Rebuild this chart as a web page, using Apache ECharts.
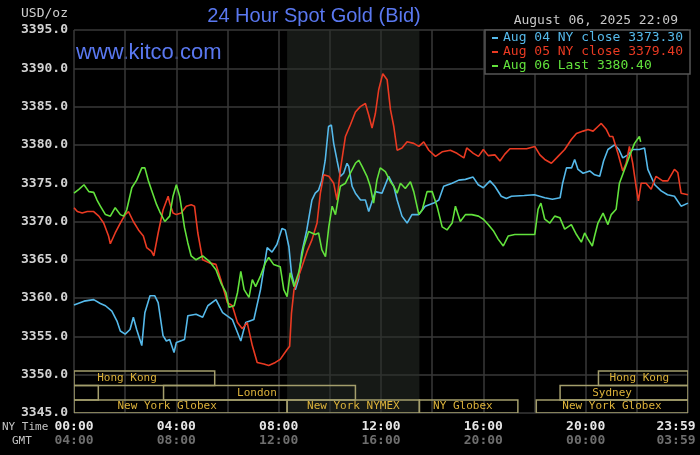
<!DOCTYPE html>
<html>
<head>
<meta charset="utf-8">
<title>24 Hour Spot Gold</title>
<style>
  html, body { margin: 0; padding: 0; background: #000; }
  #charts { width: 700px; height: 455px; }
</style>
</head>
<body>
<div id="charts"></div>
<script src="https://cdn.jsdelivr.net/npm/echarts/dist/echarts.min.js"></script>
<script>
// hours since 00:00 NY time, and price
var aug04Time = [0, 0.39, 0.77, 1.03, 1.23, 1.48, 1.68, 1.81, 2.0, 2.19, 2.32, 2.45, 2.65, 2.77, 2.97, 3.16, 3.29, 3.48, 3.61, 3.74, 3.91, 4.0, 4.32, 4.45, 4.77, 5.03, 5.23, 5.55, 5.81, 6.19, 6.52, 6.71, 7.03, 7.29, 7.55, 7.74, 7.93, 8.13, 8.26, 8.4, 8.5, 8.65, 8.78, 8.9, 9.1, 9.3, 9.43, 9.56, 9.69, 9.82, 9.95, 10.06, 10.15, 10.28, 10.41, 10.54, 10.67, 10.74, 10.87, 11.0, 11.2, 11.39, 11.52, 11.78, 12.04, 12.3, 12.5, 12.63, 12.82, 13.02, 13.21, 13.47, 13.73, 14.06, 14.26, 14.45, 14.78, 15.04, 15.3, 15.6, 15.8, 16.0, 16.26, 16.45, 16.7, 16.9, 17.1, 17.6, 18.0, 18.2, 18.4, 18.7, 19.0, 19.1, 19.25, 19.45, 19.57, 19.7, 19.9, 20.16, 20.35, 20.55, 20.7, 20.87, 21.13, 21.3, 21.45, 21.65, 21.84, 22.1, 22.3, 22.43, 22.7, 22.95, 23.2, 23.47, 23.73, 24.0];
var aug04Price = [3359.1, 3359.6, 3359.8, 3359.3, 3359.0, 3358.3, 3357.0, 3355.7, 3355.3, 3355.9, 3357.5, 3355.9, 3353.8, 3358.1, 3360.3, 3360.3, 3359.4, 3355.1, 3354.4, 3354.6, 3352.9, 3354.2, 3354.6, 3357.7, 3357.9, 3357.5, 3359.0, 3359.8, 3358.1, 3357.2, 3354.4, 3356.8, 3357.2, 3361.1, 3366.6, 3366.0, 3367.0, 3369.1, 3368.9, 3366.7, 3363.3, 3361.1, 3362.5, 3365.9, 3368.9, 3372.8, 3373.7, 3374.1, 3375.4, 3378.0, 3382.4, 3382.6, 3380.2, 3378.0, 3375.9, 3376.3, 3377.6, 3377.2, 3374.6, 3373.7, 3372.8, 3372.8, 3371.3, 3373.9, 3373.7, 3375.9, 3374.6, 3372.8, 3370.7, 3369.8, 3370.9, 3370.9, 3372.0, 3372.4, 3372.8, 3374.6, 3375.0, 3375.4, 3375.5, 3375.8, 3374.8, 3374.4, 3375.3, 3374.6, 3373.3, 3373.0, 3373.3, 3373.4, 3373.5, 3373.3, 3373.1, 3372.9, 3373.1, 3375.0, 3377.0, 3377.0, 3378.1, 3376.8, 3376.3, 3376.6, 3376.1, 3375.9, 3377.9, 3379.4, 3380.0, 3379.4, 3378.3, 3378.7, 3379.4, 3379.4, 3379.6, 3376.8, 3374.8, 3374.0, 3373.5, 3373.3, 3372.0, 3372.4];

var aug05Time = [0, 0.13, 0.32, 0.52, 0.77, 0.97, 1.16, 1.35, 1.42, 1.61, 1.81, 2.0, 2.13, 2.32, 2.52, 2.71, 2.84, 3.03, 3.12, 3.29, 3.48, 3.68, 3.74, 3.87, 4.0, 4.19, 4.39, 4.58, 4.71, 4.84, 5.03, 5.29, 5.55, 5.74, 6.0, 6.19, 6.39, 6.58, 6.77, 6.97, 7.16, 7.42, 7.61, 7.87, 8.06, 8.33, 8.43, 8.5, 8.6, 8.73, 8.91, 9.11, 9.3, 9.5, 9.63, 9.76, 9.96, 10.15, 10.28, 10.41, 10.61, 10.8, 11.0, 11.19, 11.39, 11.52, 11.65, 11.78, 11.91, 12.07, 12.24, 12.37, 12.5, 12.63, 12.82, 13.02, 13.28, 13.48, 13.67, 13.87, 14.13, 14.39, 14.71, 14.97, 15.24, 15.35, 15.61, 15.81, 16.0, 16.19, 16.45, 16.65, 16.84, 17.04, 17.36, 17.69, 18.01, 18.21, 18.4, 18.66, 18.92, 19.18, 19.44, 19.64, 19.9, 20.09, 20.29, 20.48, 20.61, 20.81, 20.94, 21.06, 21.26, 21.45, 21.58, 21.71, 21.84, 21.97, 22.06, 22.17, 22.36, 22.56, 22.75, 23.01, 23.21, 23.47, 23.6, 23.73, 24.0];
var aug05Price = [3371.8, 3371.3, 3371.1, 3371.3, 3371.3, 3370.7, 3369.8, 3368.1, 3367.1, 3368.5, 3369.8, 3370.9, 3371.3, 3370.0, 3368.9, 3368.1, 3366.6, 3366.1, 3365.5, 3368.5, 3371.5, 3373.3, 3372.4, 3371.1, 3370.9, 3371.1, 3372.0, 3372.2, 3372.0, 3368.5, 3365.0, 3364.6, 3364.4, 3362.4, 3359.4, 3359.0, 3356.8, 3356.0, 3356.8, 3353.8, 3351.6, 3351.4, 3351.2, 3351.6, 3352.0, 3353.3, 3353.7, 3358.0, 3361.1, 3362.4, 3364.1, 3366.1, 3367.6, 3369.8, 3373.7, 3376.1, 3375.9, 3375.0, 3372.8, 3376.7, 3381.1, 3382.6, 3384.3, 3385.0, 3385.4, 3383.9, 3382.2, 3384.1, 3387.2, 3389.3, 3388.5, 3384.6, 3382.4, 3379.3, 3379.6, 3380.4, 3380.2, 3379.8, 3380.4, 3379.3, 3378.5, 3379.1, 3379.3, 3378.9, 3378.3, 3379.6, 3378.9, 3378.5, 3379.4, 3378.6, 3378.7, 3377.9, 3378.8, 3379.5, 3379.5, 3379.5, 3379.8, 3378.7, 3378.1, 3377.6, 3378.5, 3379.4, 3380.7, 3381.5, 3381.8, 3382.0, 3381.8, 3382.4, 3382.8, 3382.0, 3381.1, 3381.1, 3378.9, 3376.6, 3377.6, 3379.8, 3377.6, 3374.6, 3372.7, 3375.0, 3375.0, 3374.2, 3375.9, 3375.3, 3375.3, 3376.8, 3376.4, 3373.7, 3373.5];

var aug06Time = [0, 0.19, 0.39, 0.58, 0.77, 0.9, 1.03, 1.23, 1.42, 1.61, 1.81, 1.94, 2.06, 2.26, 2.45, 2.65, 2.77, 2.9, 3.03, 3.23, 3.35, 3.55, 3.74, 3.87, 4.0, 4.13, 4.32, 4.45, 4.58, 4.77, 5.03, 5.29, 5.55, 5.74, 5.94, 6.06, 6.26, 6.39, 6.52, 6.65, 6.84, 6.97, 7.1, 7.29, 7.48, 7.61, 7.8, 8.06, 8.2, 8.33, 8.45, 8.6, 8.78, 8.98, 9.17, 9.43, 9.56, 9.69, 9.83, 9.96, 10.09, 10.22, 10.41, 10.61, 10.8, 11.0, 11.13, 11.26, 11.45, 11.58, 11.71, 11.84, 11.97, 12.17, 12.37, 12.5, 12.63, 12.76, 12.95, 13.15, 13.28, 13.48, 13.61, 13.8, 14.0, 14.19, 14.39, 14.58, 14.78, 14.91, 15.1, 15.3, 15.55, 15.81, 16.0, 16.19, 16.39, 16.58, 16.78, 16.97, 17.23, 17.62, 18.01, 18.14, 18.25, 18.4, 18.6, 18.79, 18.99, 19.18, 19.44, 19.64, 19.83, 19.96, 20.09, 20.26, 20.35, 20.48, 20.68, 20.87, 21.0, 21.19, 21.32, 21.52, 21.71, 21.91, 22.1, 22.15];
var aug06Price = [3373.7, 3374.2, 3374.8, 3373.9, 3373.8, 3372.8, 3372.0, 3370.9, 3370.7, 3371.8, 3370.9, 3370.7, 3371.5, 3374.4, 3375.4, 3377.0, 3377.0, 3375.4, 3374.1, 3372.2, 3371.3, 3370.0, 3370.7, 3373.3, 3374.8, 3373.3, 3369.2, 3367.2, 3365.5, 3365.0, 3365.5, 3364.8, 3363.7, 3362.0, 3360.7, 3358.8, 3359.0, 3360.7, 3363.5, 3361.1, 3360.1, 3362.4, 3361.5, 3362.9, 3364.6, 3365.3, 3364.4, 3364.1, 3361.1, 3360.2, 3363.3, 3361.5, 3363.3, 3366.7, 3368.7, 3368.3, 3368.5, 3366.3, 3365.4, 3369.3, 3372.0, 3370.9, 3374.6, 3375.0, 3376.3, 3377.6, 3378.0, 3377.2, 3375.9, 3374.6, 3372.4, 3375.4, 3377.0, 3376.5, 3375.2, 3374.6, 3373.7, 3375.0, 3374.3, 3375.2, 3373.9, 3370.9, 3371.5, 3373.9, 3373.9, 3372.0, 3369.3, 3368.9, 3369.8, 3372.0, 3370.0, 3370.9, 3370.9, 3370.7, 3370.3, 3369.6, 3368.8, 3367.7, 3366.8, 3368.1, 3368.3, 3368.3, 3368.3, 3371.6, 3372.4, 3370.3, 3369.8, 3370.7, 3370.5, 3369.0, 3369.6, 3368.3, 3367.3, 3368.5, 3367.7, 3366.8, 3368.1, 3369.8, 3371.1, 3369.6, 3370.9, 3371.6, 3375.0, 3376.8, 3378.5, 3380.2, 3381.1, 3380.4];

var seriesNames = ['Aug 04 NY close 3373.30', 'Aug 05 NY close 3379.40', 'Aug 06 Last 3380.40'];
var seriesColors = ['#55b9ea', '#ea3a22', '#62e23c'];

// x tick labels (NY time / GMT)
var tickHours = [0, 4, 8, 12, 16, 20, 24];
var nyLabels = ['00:00', '04:00', '08:00', '12:00', '16:00', '20:00', '23:59'];
var gmtLabels = ['04:00', '08:00', '12:00', '16:00', '20:00', '00:00', '03:59'];

// trading sessions drawn as boxes along the bottom (row 0 = top row)
var marketNames = ['Hong Kong', '', 'London', 'New York Globex', 'New York NYMEX', 'NY Globex', 'New York Globex', 'Sydney', 'Hong Kong'];
var marketStart = [0, 0, 3.5, 0, 8.33, 13.5, 18.07, 19.0, 20.5];
var marketEnd = [5.5, 0.95, 11.0, 8.33, 13.5, 17.35, 24, 24, 24];
var marketRow = [0, 1, 1, 2, 2, 2, 2, 1, 0];
var marketTextAt = [2.07, 0.5, 7.15, 3.64, 10.92, 15.2, 21.03, 21.03, 22.1];

// NYMEX pit hours shaded
var nymexHours = [8.33, 13.5];

function pairs(t, v) {
    var out = [];
    for (var i = 0; i < t.length; i++) {
        out.push([t[i], v[i]]);
    }
    return out;
}

var marketData = [];
for (var i = 0; i < marketNames.length; i++) {
    marketData.push([marketStart[i], marketEnd[i], marketRow[i], marketTextAt[i]]);
}

function renderMarket(params, api) {
    var cs = params.coordSys;
    var bottom = cs.y + cs.height;
    var rowTop = [bottom - 42, bottom - 27.5, bottom - 13];
    var rowH = [14.5, 14.5, 13];
    var r = api.value(2);
    var x0 = api.coord([api.value(0), 3345])[0];
    var x1 = api.coord([api.value(1), 3345])[0];
    var xt = api.coord([api.value(3), 3345])[0];
    return {
        type: 'group',
        children: [{
            type: 'rect',
            shape: { x: x0, y: rowTop[r], width: x1 - x0, height: rowH[r] },
            style: { fill: 'none', stroke: '#a49e6c', lineWidth: 1.5 }
        }, {
            type: 'text',
            style: {
                text: marketNames[params.dataIndex],
                x: xt, y: rowTop[r] + rowH[r] / 2,
                fill: '#dcb23a', font: '11px "DejaVu Sans Mono"',
                align: 'center', verticalAlign: 'middle'
            }
        }]
    };
}

var myChart = echarts.init(document.getElementById('charts'));

var mono = '"DejaVu Sans Mono"';

var option = {
    backgroundColor: '#000',
    animation: false,
    grid: { left: 74, right: 12, top: 30, bottom: 42, containLabel: false, outerBoundsMode: 'none' },
    legend: {
        orient: 'vertical',
        left: 485,
        top: 30,
        backgroundColor: '#000',
        borderColor: '#555',
        borderWidth: 1.5,
        padding: [1, 7, 1, 7],
        itemGap: 0,
        itemWidth: 6,
        itemHeight: 2,
        icon: 'rect',
        data: [
            { name: seriesNames[0], textStyle: { color: seriesColors[0] } },
            { name: seriesNames[1], textStyle: { color: seriesColors[1] } },
            { name: seriesNames[2], textStyle: { color: seriesColors[2] } }
        ],
        textStyle: { fontFamily: mono, fontSize: 13, lineHeight: 14 }
    },
    xAxis: {
        type: 'value',
        min: 0,
        max: 24,
        interval: 2,
        axisLine: { show: false },
        axisTick: { show: false },
        splitLine: { show: true, lineStyle: { color: '#393939', width: 1.5 } },
        axisLabel: {
            margin: 7,
            interval: 0,
            showMinLabel: true,
            showMaxLabel: true,
            formatter: function (value) {
                var idx = tickHours.indexOf(value);
                if (idx < 0) return '';
                if (value === 24) return '{nyl|' + nyLabels[idx] + '}\n{gmtl|' + gmtLabels[idx] + '}';
                return '{ny|' + nyLabels[idx] + '}\n{gmt|' + gmtLabels[idx] + '}';
            },
            rich: {
                ny: { color: '#e6e6e6', fontFamily: mono, fontSize: 13, fontWeight: 'bold', lineHeight: 14 },
                gmt: { color: '#6e6e6e', fontFamily: mono, fontSize: 13, fontWeight: 'bold', lineHeight: 14 },
                nyl: { color: '#e6e6e6', fontFamily: mono, fontSize: 13, fontWeight: 'bold', lineHeight: 14, padding: [0, 24, 0, 0] },
                gmtl: { color: '#6e6e6e', fontFamily: mono, fontSize: 13, fontWeight: 'bold', lineHeight: 14, padding: [0, 24, 0, 0] }
            }
        }
    },
    yAxis: {
        type: 'value',
        min: 3345,
        max: 3395,
        interval: 5,
        axisLine: { show: false },
        axisTick: { show: false },
        splitLine: { show: true, lineStyle: { color: '#393939', width: 1.5 } },
        axisLabel: {
            margin: 6,
            color: '#d2d2d2',
            fontFamily: mono,
            fontSize: 13,
            fontWeight: 'bold',
            formatter: function (v) { return v.toFixed(1); }
        }
    },
    graphic: [
        { type: 'text', left: 21, top: 7, style: { text: 'USD/oz', fill: '#cfcfcf', font: '13px ' + mono } },
        { type: 'text', x: 314, y: 16, style: { text: '24 Hour Spot Gold (Bid)', fill: '#5a78f0', font: '20px "Liberation Sans"', align: 'center', verticalAlign: 'middle' } },
        { type: 'text', x: 76, y: 53, style: { text: 'www.kitco.com', fill: '#5a78f0', font: '22px "Liberation Sans"', align: 'left', verticalAlign: 'middle' } },
        { type: 'text', x: 678, y: 21, style: { text: 'August 06, 2025 22:09', fill: '#c8c8c8', font: '13px ' + mono, align: 'right', verticalAlign: 'middle' } },
        { type: 'text', x: 2, y: 427, style: { text: 'NY Time', fill: '#c4c4c4', font: '11px ' + mono, align: 'left', verticalAlign: 'middle' } },
        { type: 'text', x: 12, y: 441, style: { text: 'GMT', fill: '#c4c4c4', font: '11px ' + mono, align: 'left', verticalAlign: 'middle' } }
    ],
    series: [
        {
            name: seriesNames[0],
            type: 'line',
            data: pairs(aug04Time, aug04Price),
            showSymbol: false,
            color: seriesColors[0],
            lineStyle: { width: 1.6 },
            z: 3,
            markArea: {
                silent: true,
                itemStyle: { color: 'rgba(40, 46, 40, 0.55)' },
                data: [[{ xAxis: nymexHours[0] }, { xAxis: nymexHours[1] }]]
            }
        },
        {
            name: seriesNames[1],
            type: 'line',
            data: pairs(aug05Time, aug05Price),
            showSymbol: false,
            color: seriesColors[1],
            lineStyle: { width: 1.6 },
            z: 4
        },
        {
            name: seriesNames[2],
            type: 'line',
            data: pairs(aug06Time, aug06Price),
            showSymbol: false,
            color: seriesColors[2],
            lineStyle: { width: 1.6 },
            z: 5
        },
        {
            type: 'custom',
            name: 'markets',
            renderItem: renderMarket,
            data: marketData,
            clip: true,
            silent: true,
            z: 2
        }
    ]
};

myChart.setOption(option);
</script>
</body>
</html>
